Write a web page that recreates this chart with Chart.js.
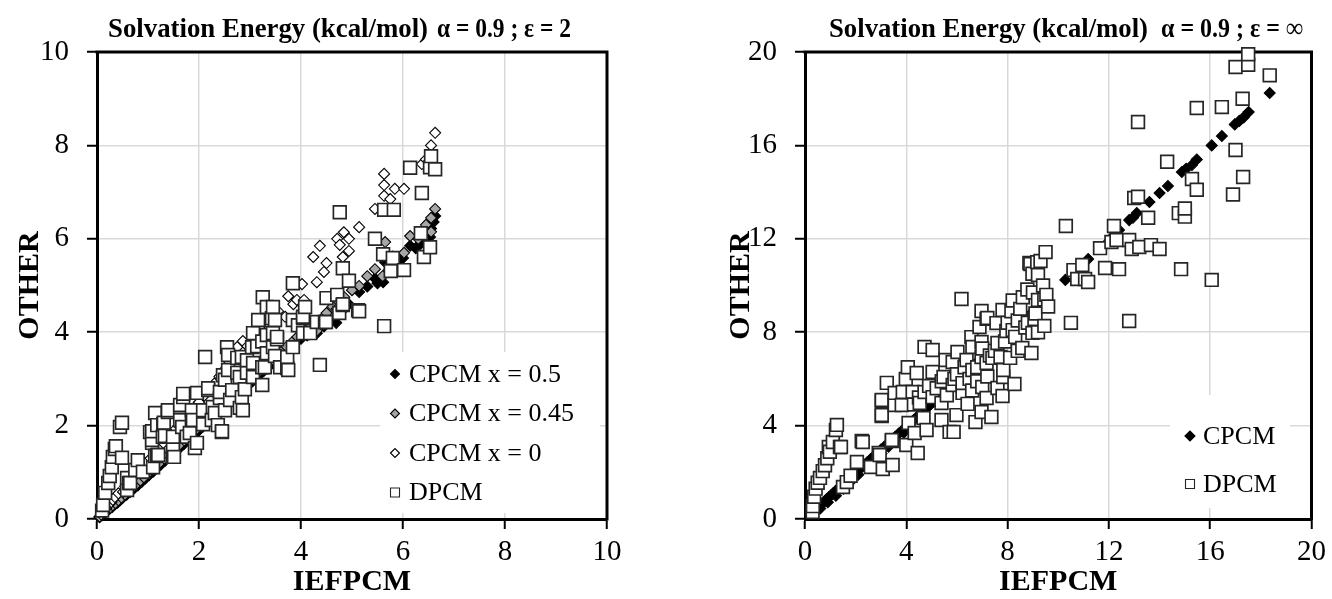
<!DOCTYPE html>
<html><head><meta charset="utf-8">
<script src="https://cdn.jsdelivr.net/npm/chart.js@4.4.1/dist/chart.umd.min.js"></script>
<style>
html,body{margin:0;padding:0;background:#fff;width:1332px;height:599px;overflow:hidden}
#wrapL{position:absolute;left:0;top:0;width:666px;height:599px}
#wrapR{position:absolute;left:666px;top:0;width:666px;height:599px}
</style></head><body>
<div id="wrapL"><canvas id="cL" width="666" height="599"></canvas></div>
<div id="wrapR"><canvas id="cR" width="666" height="599"></canvas></div>
<script>
// ---------- DATA ----------
const titleMain = 'Solvation Energy (kcal/mol)';
const leftTitleParam = '\u03b1 = 0.9 ; \u03b5 = 2';
const rightTitleParam = '\u03b1 = 0.9 ; \u03b5 = \u221e';
const xAxisTitle = 'IEFPCM';
const yAxisTitle = 'OTHER';
const leftTicks = [0, 2, 4, 6, 8, 10];
const rightTicks = [0, 4, 8, 12, 16, 20];
const leftLabels = ['CPCM x = 0.5', 'CPCM x = 0.45', 'CPCM x = 0', 'DPCM'];
const rightLabels = ['CPCM', 'DPCM'];

const leftCpcm05 = [[0.05,0.04],[0.1,0.08],[0.15,0.13],[0.2,0.17],[0.25,0.22],[0.3,0.26],[0.35,0.31],[0.4,0.35],[0.45,0.4],[0.5,0.45],[0.58,0.52],[0.65,0.58],[0.72,0.65],[0.8,0.72],[0.88,0.8],[0.95,0.87],[1.02,0.94],[1.1,1.01],[1.18,1.09],[1.25,1.16],[1.33,1.24],[1.4,1.31],[1.48,1.38],[1.55,1.45],[1.63,1.53],[1.7,1.6],[1.78,1.68],[1.85,1.75],[1.93,1.83],[2.0,1.9],[2.08,1.98],[2.15,2.05],[2.23,2.13],[2.3,2.2],[2.38,2.28],[2.45,2.35],[2.53,2.43],[2.6,2.5],[2.68,2.58],[2.75,2.65],[2.83,2.73],[2.9,2.8],[2.98,2.88],[3.05,2.95],[3.13,3.03],[3.2,3.1],[3.28,3.18],[3.35,3.25],[3.43,3.33],[3.5,3.4],[3.6,3.5],[3.7,3.6],[3.8,3.68],[3.9,3.78],[4.0,3.86],[4.12,3.93],[4.31,3.98],[4.45,4.12],[4.56,4.28],[4.69,4.2],[4.8,4.45],[4.94,4.6],[5.14,4.86],[5.3,4.98],[5.45,5.15],[5.5,5.05],[5.61,5.07],[5.65,5.5],[5.72,5.33],[5.9,5.5],[6.0,5.59],[6.14,5.85],[6.25,5.8],[6.35,5.9],[6.45,6.0],[6.53,6.04],[6.55,6.22],[6.6,6.36],[6.63,6.49]];

const leftCpcm045 = [[0.05,0.05],[0.1,0.09],[0.15,0.14],[0.2,0.19],[0.26,0.24],[0.31,0.29],[0.36,0.34],[0.42,0.4],[0.48,0.46],[0.55,0.52],[0.62,0.59],[0.7,0.67],[0.77,0.74],[0.85,0.82],[0.92,0.89],[1.0,0.97],[1.08,1.05],[1.16,1.13],[1.24,1.21],[1.32,1.29],[1.4,1.37],[1.47,1.44],[1.55,1.52],[1.63,1.6],[1.71,1.68],[1.8,1.77],[1.88,1.85],[1.96,1.93],[2.05,2.02],[2.13,2.1],[2.22,2.19],[2.3,2.27],[2.39,2.36],[2.47,2.44],[2.56,2.53],[2.65,2.62],[2.73,2.7],[2.82,2.79],[2.9,2.87],[2.99,2.96],[3.08,3.05],[3.17,3.14],[3.26,3.23],[3.35,3.32],[3.44,3.41],[3.53,3.5],[3.62,3.59],[3.72,3.69],[3.82,3.78],[3.93,3.9],[4.05,4.0],[4.18,4.12],[4.31,4.03],[4.42,4.3],[4.5,4.41],[4.62,4.55],[4.7,4.5],[4.85,4.75],[5.0,4.9],[5.14,4.99],[5.3,5.2],[5.45,5.35],[5.6,5.2],[5.65,5.93],[5.8,5.62],[6.02,5.7],[6.14,6.06],[6.3,6.0],[6.45,6.3],[6.55,6.15],[6.55,6.45],[6.63,6.64]];

const leftCpcm0 = [[0.08,0.1],[0.12,0.15],[0.18,0.23],[0.22,0.3],[0.28,0.36],[0.31,0.41],[0.35,0.47],[0.42,0.55],[0.51,0.58],[0.55,0.7],[0.62,0.8],[0.7,0.88],[0.78,0.98],[0.85,1.08],[0.95,1.2],[1.05,1.3],[1.12,1.42],[1.2,1.52],[1.3,1.63],[1.4,1.76],[1.5,1.88],[1.6,2.0],[1.7,2.13],[1.8,2.26],[1.9,2.38],[2.0,2.5],[2.1,2.64],[2.2,2.78],[2.3,2.9],[2.4,3.05],[2.5,3.2],[2.6,3.35],[2.68,3.5],[2.75,3.68],[2.86,3.81],[2.95,3.7],[3.06,3.98],[3.15,3.9],[3.22,4.15],[3.35,4.2],[3.45,4.33],[3.55,4.45],[3.69,4.33],[3.75,4.77],[3.85,4.6],[3.92,4.69],[4.02,5.03],[4.06,4.69],[4.24,5.61],[4.31,5.07],[4.37,5.85],[4.45,5.29],[4.5,5.48],[4.71,6.0],[4.76,5.87],[4.82,5.61],[4.84,6.14],[4.94,6.0],[4.94,5.74],[5.14,6.25],[5.45,6.64],[5.63,6.92],[5.63,7.15],[5.63,7.39],[5.75,6.85],[5.84,7.07],[6.02,7.07],[6.37,7.6],[6.45,7.7],[6.55,8.0],[6.63,8.27]];

const leftDpcm = [[0.1,0.18],[0.12,0.3],[0.16,0.56],[0.22,0.77],[0.25,0.92],[0.29,1.11],[0.31,1.33],[0.35,1.5],[0.37,1.56],[0.45,1.97],[0.49,2.06],
[0.49,1.31],[0.59,0.62],[0.59,0.88],[0.63,0.77],[0.65,0.77],[0.75,1.05],[0.8,1.26],[0.9,1.01],[1.04,1.86],[1.08,1.63],[1.08,1.69],[1.08,1.88],[1.1,1.11],[1.14,1.35],[1.14,2.27],[1.18,1.37],[1.18,2.01],[1.2,1.37],[1.29,1.76],[1.3,2.03],[1.31,2.06],[1.33,1.78],[1.39,2.29],[1.39,2.33],[1.49,1.33],[1.49,1.54],[1.49,1.76],[1.51,1.33],[1.63,2.12],[1.63,2.4],[1.63,2.44],[1.67,1.97],[1.69,2.61],[1.69,2.68],[1.76,1.76],[1.82,1.84],[1.86,2.12],[1.86,2.33],[1.88,2.12],[1.92,1.52],[1.96,1.63],[1.96,2.7],[2.08,2.03],[2.08,2.33],[2.12,3.47],[2.18,2.76],[2.18,2.8],[2.25,2.12],[2.27,2.4],[2.31,2.27],[2.37,2.01],[2.41,2.59],[2.41,2.72],[2.45,1.86],[2.45,1.88],[2.47,3.08],[2.51,2.33],[2.51,2.98],[2.55,3.68],[2.57,3.19],[2.57,3.51],[2.61,2.55],[2.65,2.76],[2.75,3.13],[2.75,3.45],[2.8,2.38],[2.8,3.04],[2.84,2.61],[2.84,3.47],[2.86,2.33],[2.9,2.78],[2.94,3.13],[2.94,3.4],[3.04,3.68],[3.06,3.04],[3.06,3.34],[3.06,3.98],[3.14,3.7],[3.16,4.26],[3.24,2.87],[3.24,3.25],[3.24,3.8],[3.25,4.75],[3.29,3.25],[3.33,3.55],[3.33,3.94],[3.33,4.54],[3.43,4.3],[3.45,3.68],[3.45,3.98],[3.45,4.54],[3.49,3.49],[3.49,4.26],[3.53,3.85],[3.53,3.9],[3.59,3.25],[3.73,3.23],[3.73,3.47],[3.75,3.19],[3.84,3.68],[3.84,4.26],[3.84,5.05],[3.94,4.15],[4.04,3.98],[4.04,4.3],[4.04,4.33],[4.08,4.54],[4.18,3.98],[4.31,4.22],[4.37,3.3],[4.47,4.22],[4.49,4.22],[4.5,4.73],[4.71,4.8],[4.75,4.41],[4.76,6.57],[4.82,4.58],[4.82,4.6],[4.82,5.37],[4.94,5.1],[5.12,4.47],[5.14,4.45],[5.45,6.0],[5.61,5.67],[5.63,4.13],[5.63,6.62],[5.76,5.31],[5.8,5.59],[5.82,6.62],[6.02,5.33],[6.14,7.52],[6.35,6.12],[6.37,6.98],[6.41,5.61],[6.53,5.82],[6.53,7.53],[6.55,7.77],[6.63,7.49]];

const rightCpcm = [[0.25,0.22],[0.32,0.3],[0.4,0.38],[0.48,0.46],[0.55,0.53],[0.6,0.45],[0.62,0.6],[0.7,0.69],[0.78,0.77],[0.86,0.85],[0.9,0.72],[0.94,0.93],[1.02,1.01],[1.1,1.09],[1.2,1.19],[1.22,1.0],[1.3,1.29],[1.4,1.39],[1.5,1.49],[1.52,1.3],[1.6,1.59],[1.72,1.7],[1.8,1.6],[1.84,1.82],[1.95,1.93],[2.08,2.06],[2.1,1.9],[2.2,2.18],[2.33,2.31],[2.4,2.2],[2.46,2.43],[2.6,2.57],[2.7,2.5],[2.73,2.7],[2.86,2.83],[3.0,2.97],[3.02,2.8],[3.14,3.1],[3.28,3.24],[3.3,3.1],[3.42,3.38],[3.56,3.52],[3.6,3.4],[3.7,3.66],[3.85,3.8],[3.9,3.7],[4.0,3.95],[4.15,4.1],[4.3,4.24],[4.45,4.4],[4.6,4.54],[4.76,4.7],[4.92,4.86],[5.08,5.02],[5.24,5.17],[5.4,5.33],[5.56,5.49],[5.72,5.65],[5.88,5.8],[6.04,5.96],[6.2,6.12],[6.36,6.28],[6.52,6.44],[6.68,6.6],[6.84,6.75],[7.0,6.91],[7.16,7.07],[7.32,7.23],[7.48,7.38],[7.64,7.54],[7.8,7.7],[7.96,7.86],[8.12,8.02],[8.28,8.17],[8.44,8.33],[8.6,8.49],[8.76,8.65],[8.92,8.8],[9.08,8.96],[9.24,9.12],[9.4,9.28],[9.55,9.43],
[10.28,10.24],[10.83,10.7],[11.18,11.13],[11.85,11.73],[12.15,12.1],[12.4,12.38],[12.8,12.8],[12.95,12.9],[13.1,13.1],[13.6,13.58],[14.0,13.96],[14.33,14.26],[14.88,14.86],[15.05,15.0],[15.28,15.16],[15.47,15.4],[16.06,16.0],[16.46,16.4],[16.97,16.9],[17.15,17.05],[17.32,17.2],[17.52,17.43],[18.35,18.24]];

const rightDpcm = [[0.3,0.3],[0.31,0.55],[0.36,0.95],[0.42,1.3],[0.5,1.55],[0.59,1.76],[0.7,2.05],[0.79,2.3],[0.88,2.6],[0.94,3.08],[0.98,2.88],[1.1,3.3],[1.22,3.81],[1.26,4.03],[1.38,3.08],[1.42,3.08],[1.5,1.37],[1.65,1.58],[1.8,1.85],[2.05,2.44],[2.24,3.34],[2.28,3.3],[2.6,2.23],[2.91,2.83],[2.95,2.74],[3.03,4.41],[3.03,4.45],[3.03,5.05],[3.03,5.1],[3.07,2.14],[3.23,5.83],[3.43,3.34],[3.43,3.38],[3.46,2.31],[3.54,4.88],[3.54,5.4],[3.82,4.88],[3.86,5.44],[3.98,6.0],[4.0,3.17],[4.06,6.5],[4.09,4.11],[4.25,5.44],[4.3,4.9],[4.33,3.68],[4.41,6.25],[4.45,2.83],[4.5,5.2],[4.53,4.97],[4.68,4.33],[4.72,5.44],[4.72,7.37],[4.8,3.81],[4.9,5.7],[5.04,5.22],[5.04,6.3],[5.04,7.24],[5.2,5.6],[5.39,4.24],[5.39,4.97],[5.4,5.9],[5.47,6.08],[5.55,6.81],[5.6,5.3],[5.71,3.73],[5.83,5.74],[5.83,6.72],[5.87,3.73],[5.9,6.0],[5.98,4.45],[6.0,6.2],[6.02,7.15],[6.18,9.42],[6.22,5.4],[6.22,5.82],[6.3,6.5],[6.38,6.81],[6.42,4.93],[6.5,6.0],[6.57,7.79],[6.6,5.5],[6.61,6.38],[6.61,7.37],[6.73,4.15],[6.8,5.9],[6.8,6.5],[6.89,8.22],[6.97,4.58],[6.97,6.94],[6.97,7.58],[6.97,8.91],[7.0,5.65],[7.0,7.3],[7.17,5.18],[7.17,6.68],[7.17,8.57],[7.2,6.1],[7.2,8.61],[7.3,7.0],[7.36,4.37],[7.4,6.9],[7.5,7.2],[7.56,8.39],[7.6,5.61],[7.6,7.54],[7.72,6.94],[7.8,5.27],[7.8,8.95],[7.83,6.08],[7.83,6.38],[7.9,7.6],[7.95,8.05],[8.0,8.4],[8.1,6.9],[8.15,8.9],[8.2,8.09],[8.2,9.36],[8.27,5.78],[8.3,7.8],[8.4,7.2],[8.4,8.5],[8.5,9.0],[8.58,7.32],[8.6,9.5],[8.7,8.2],[8.78,9.83],[8.8,8.4],[8.86,10.96],[8.9,10.92],[8.94,7.11],[8.98,7.97],[8.98,10.5],[9.0,9.7],[9.06,8.57],[9.1,8.8],[9.17,11.0],[9.2,8.0],[9.2,9.38],[9.2,10.45],[9.3,11.05],[9.4,10.0],[9.45,8.27],[9.45,9.4],[9.5,11.43],[9.53,9.6],[9.6,9.1],
[10.3,12.55],[10.5,8.4],[10.6,10.66],[10.75,10.28],[10.95,10.88],[11.06,10.28],[11.18,10.15],[11.65,11.6],[11.85,10.75],[12.1,11.86],[12.2,12.55],[12.3,11.95],[12.4,10.7],[12.8,8.48],[12.8,11.95],[12.9,11.56],[13.0,13.75],[13.15,13.8],[13.15,17.0],[13.2,11.65],[13.55,12.9],[13.66,11.73],[14.0,11.56],[14.3,15.3],[14.76,13.1],[14.85,10.7],[15.0,12.95],[15.0,13.3],[15.28,14.56],[15.47,14.1],[15.47,17.6],[16.06,10.24],[16.46,17.64],[16.9,13.9],[17.0,15.8],[17.0,19.36],[17.28,18.0],[17.3,14.65],[17.5,19.45],[17.5,19.9],[18.35,19.0]];

// ---------- HELPERS ----------
const SERIF = '"Liberation Serif", "Times New Roman", serif';
const toXY = arr => arr.map(p => ({x: p[0], y: p[1]}));

function drawMarker(ctx, style, x, y, r, fill, stroke, lw) {
  ctx.beginPath();
  if (style === 'rectRot') {
    ctx.moveTo(x - r, y); ctx.lineTo(x, y - r); ctx.lineTo(x + r, y); ctx.lineTo(x, y + r); ctx.closePath();
  } else {
    ctx.rect(x - r, y - r, 2 * r, 2 * r);
  }
  ctx.fillStyle = fill; ctx.fill();
  if (lw > 0) { ctx.strokeStyle = stroke; ctx.lineWidth = lw; ctx.stroke(); }
}

const plotBox = {
  id: 'plotBox',
  beforeDatasetsDraw(chart) {
    const {ctx, chartArea: a} = chart;
    ctx.save();
    ctx.strokeStyle = '#000'; ctx.lineWidth = 3;
    ctx.beginPath();
    ctx.moveTo(a.left - 1.5, a.top); ctx.lineTo(a.right, a.top); ctx.lineTo(a.right, a.bottom + 1.5);
    ctx.stroke();
    ctx.restore();
  }
};

const insideLegend = {
  id: 'insideLegend',
  afterDatasetsDraw(chart, args, o) {
    const ctx = chart.ctx;
    ctx.save();
    ctx.fillStyle = '#fff';
    ctx.fillRect(o.box[0], o.box[1], o.box[2], o.box[3]);
    ctx.font = o.fontSize + 'px ' + SERIF;
    ctx.textBaseline = 'middle';
    ctx.textAlign = 'left';
    chart.data.datasets.forEach((ds, i) => {
      const y = o.y0 + i * o.dy;
      const r = ds.pointStyle === 'rectRot' ? o.diamondR : o.squareR;
      drawMarker(ctx, ds.pointStyle, o.markerX, y, r, ds.pointBackgroundColor, ds.pointBorderColor, 1.1);
      ctx.fillStyle = '#000';
      ctx.fillText(ds.label, o.textX, y + 1);
    });
    ctx.restore();
  }
};

const scaledTitle = {
  id: 'scaledTitle',
  afterDraw(chart, args, o) {
    const ctx = chart.ctx;
    ctx.save();
    ctx.font = 'bold ' + o.size + 'px ' + SERIF;
    ctx.textAlign = 'left';
    ctx.textBaseline = 'alphabetic';
    ctx.fillStyle = '#000';
    o.parts.forEach(p => {
      const w = ctx.measureText(p.text).width;
      ctx.save();
      ctx.translate(p.x, o.baseline);
      ctx.scale(p.width / w, 1);
      ctx.fillText(p.text, 0, 0);
      ctx.restore();
    });
    ctx.restore();
  }
};

function axis(max, step, ticksArr, isX, yWidth, yTitlePad) {
  const cfg = {
    type: 'linear', min: ticksArr[0], max: max,
    afterBuildTicks: s => { s.ticks = ticksArr.map(v => ({value: v})); },
    ticks: {font: {family: SERIF, size: 29}, color: '#000', padding: isX ? 6 : 18, stepSize: step},
    grid: {color: '#d9d9d9', lineWidth: 1.5, tickColor: '#000', tickLength: 10, tickWidth: 2, drawTicks: true},
    border: {color: '#000', width: 3},
    title: {display: true, text: isX ? xAxisTitle : yAxisTitle, color: '#000',
      font: {family: SERIF, size: 30, weight: 'bold', lineHeight: 1},
      padding: isX ? {top: 0, bottom: 2} : {top: yTitlePad, bottom: 0}}
  };
  cfg.afterFit = isX ? (s => { s.height = 80; }) : (s => { s.width = yWidth; });
  return cfg;
}

function makeChart(id, datasets, max, step, ticksArr, yWidth, rightPad, yTitlePad, legendOpts, titleOpts) {
  return new Chart(document.getElementById(id), {
    type: 'scatter',
    data: {datasets},
    options: {
      responsive: false, animation: false, devicePixelRatio: 1,
      layout: {padding: {top: 52, right: rightPad, bottom: 0, left: 0}},
      plugins: {legend: {display: false}, tooltip: {enabled: false}, title: {display: false},
        insideLegend: legendOpts, scaledTitle: titleOpts},
      scales: {
        x: axis(max, step, ticksArr, true),
        y: axis(max, step, ticksArr, false, yWidth, yTitlePad)
      }
    },
    plugins: [plotBox, insideLegend, scaledTitle]
  });
}

function ds(label, data, style, fill, r, order) {
  return {label, data: toXY(data), pointStyle: style, pointRadius: r, pointHoverRadius: r,
    pointBackgroundColor: fill, pointBorderColor: style === 'rect' ? '#262626' : '#000',
    pointBorderWidth: style === 'rect' ? 1.7 : 1.1, showLine: false, order, clip: false};
}

// ---------- LEFT ----------
makeChart('cL', [
  ds(leftLabels[0], leftCpcm05, 'rectRot', '#000000', 5.5, 3),
  ds(leftLabels[1], leftCpcm045, 'rectRot', '#a6a6a6', 5.5, 2),
  ds(leftLabels[2], leftCpcm0, 'rectRot', '#ffffff', 5.5, 1),
  ds(leftLabels[3], leftDpcm, 'rect', '#ffffff', 9, 0)
], 10, 2, leftTicks, 97, 59, 15,
  {box: [380, 352, 220, 161], y0: 374, dy: 39.5, markerX: 395, textX: 409, fontSize: 26, diamondR: 4.5, squareR: 4.5},
  {size: 28, baseline: 37, parts: [{text: titleMain, x: 108, width: 320}, {text: leftTitleParam, x: 437, width: 134}]});

// ---------- RIGHT ----------
makeChart('cR', [
  ds(rightLabels[0], rightCpcm, 'rectRot', '#000000', 5.5, 1),
  ds(rightLabels[1], rightDpcm, 'rect', '#ffffff', 9, 0)
], 20, 4, rightTicks, 139, 19, 60,
  {box: [504, 395, 120, 113], y0: 436, dy: 48, markerX: 524, textX: 537, fontSize: 26, diamondR: 5, squareR: 4.5},
  {size: 28, baseline: 37, parts: [{text: titleMain, x: 163, width: 319}, {text: rightTitleParam, x: 495, width: 142}]});
</script>
</body></html>
